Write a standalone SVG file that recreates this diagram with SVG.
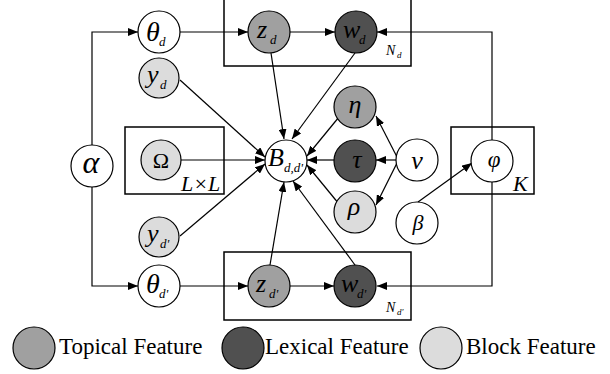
<svg xmlns="http://www.w3.org/2000/svg" width="610" height="374" viewBox="0 0 610 374" font-family="Liberation Serif, Times New Roman, Tinos, DejaVu Serif, serif">
<defs>
<marker id="arr" markerUnits="userSpaceOnUse" markerWidth="10" markerHeight="8" refX="10" refY="4" orient="auto">
<path d="M0,0 L10,4 L0,8 z" fill="#000"/>
</marker>
<style>
.n{stroke:#000;stroke-width:1.2;fill:#fff}
.top{fill:#a0a0a0}
.lex{fill:#505050}
.blk{fill:#dcdcdc}
.plate{fill:none;stroke:#000;stroke-width:1.5}
.e{stroke:#000;stroke-width:1.2;fill:none;marker-end:url(#arr)}
.v{font-style:italic;font-size:26px}
.s{font-style:italic;font-size:13px}
.g{font-style:italic;font-size:26px;text-anchor:middle}
.leg{font-size:23px}
</style>
</defs>
<rect width="610" height="374" fill="#fff"/>
<g id="plates">
<rect class="plate" x="224" y="-5" width="187" height="71"/>
<rect class="plate" x="125" y="127" width="99" height="67"/>
<rect class="plate" x="451" y="127" width="83" height="67"/>
<rect class="plate" x="224" y="252" width="187" height="68"/>
<text x="386" y="55" style="font-style:italic;font-size:14px">N</text><text x="397" y="58" style="font-style:italic;font-size:9px">d</text>
<text x="181" y="191" style="font-style:italic;font-size:22px">L×L</text>
<text x="513" y="191" style="font-style:italic;font-size:22px">K</text>
<text x="386" y="312" style="font-style:italic;font-size:14px">N</text><text x="397" y="315" style="font-style:italic;font-size:9px">d'</text>
</g>
<g id="connectors">
<path class="e" d="M92,145 V32 H138"/>
<path class="e" d="M92,187 V286 H138"/>
<path class="e" d="M180,32 H248"/>
<path class="e" d="M290,32 H335"/>
<path class="e" d="M492,140 V32 H377"/>
<path class="e" d="M180,286 H248"/>
<path class="e" d="M290,286 H334"/>
<path class="e" d="M492,182 V286 H377"/>
<path class="e" d="M418,202 L472,163"/>
<path class="e" d="M271,53 L284,139"/>
<path class="e" d="M355,53 L292,139"/>
<path class="e" d="M180,80 L265,157"/>
<path class="e" d="M181,160 L265,160"/>
<path class="e" d="M180,236 L265,164"/>
<path class="e" d="M270,265 L284,182"/>
<path class="e" d="M355,265 L293,181"/>
<path class="e" d="M339,117 L307,156"/>
<path class="e" d="M334,160 L307,160"/>
<path class="e" d="M339,204 L307,165"/>
<path class="e" d="M397,157 L376,116"/>
<path class="e" d="M396,160 L376,160"/>
<path class="e" d="M397,163 L376,205"/>
</g>
<g id="theta_d"><circle class="n" cx="159" cy="32" r="21"/><text class="v" x="146" y="41" style="font-size:28px">θ</text><text class="s" x="159" y="46">d</text></g>
<g id="z_d"><circle class="n top" cx="269" cy="32" r="21"/><text class="v" x="257" y="38">z</text><text class="s" x="270" y="44">d</text></g>
<g id="w_d"><circle class="n lex" cx="356" cy="32" r="21"/><text class="v" x="343" y="38">w</text><text class="s" x="359" y="44">d</text></g>
<g id="y_d"><circle class="n blk" cx="159" cy="78" r="20"/><text class="v" x="147" y="83">y</text><text class="s" x="160" y="89">d</text></g>
<g id="alpha"><circle class="n" cx="92" cy="166" r="21"/><text class="g" x="91" y="173" style="font-size:32px">α</text></g>
<g id="Omega"><circle class="n blk" cx="161" cy="160" r="20"/><text x="161" y="168" text-anchor="middle" style="font-size:22px">Ω</text></g>
<g id="B"><circle class="n" cx="286" cy="161" r="21"/><text class="v" x="268" y="166">B</text><text class="s" x="284" y="172">d,d'</text></g>
<g id="eta"><circle class="n top" cx="355" cy="107" r="21"/><text class="g" x="355" y="113">η</text></g>
<g id="tau"><circle class="n lex" cx="355" cy="161" r="21"/><text class="g" x="357" y="168">τ</text></g>
<g id="rho"><circle class="n blk" cx="355" cy="212" r="21"/><text class="g" x="354" y="215">ρ</text></g>
<g id="nu"><circle class="n" cx="417" cy="160" r="21"/><text class="g" x="417" y="169">ν</text></g>
<g id="phi"><circle class="n" cx="492" cy="161" r="21"/><text class="g" x="494" y="167" style="font-size:23px">φ</text></g>
<g id="beta"><circle class="n" cx="417" cy="223" r="21"/><text class="g" x="418" y="230" style="font-size:22px">β</text></g>
<g id="y_dp"><circle class="n blk" cx="159" cy="237" r="20"/><text class="v" x="147" y="242">y</text><text class="s" x="160" y="248">d'</text></g>
<g id="theta_dp"><circle class="n" cx="159" cy="286" r="21"/><text class="v" x="146" y="293" style="font-size:28px">θ</text><text class="s" x="159" y="298">d'</text></g>
<g id="z_dp"><circle class="n top" cx="269" cy="286" r="21"/><text class="v" x="256" y="292">z</text><text class="s" x="269" y="298">d'</text></g>
<g id="w_dp"><circle class="n lex" cx="355" cy="286" r="21"/><text class="v" x="341" y="292">w</text><text class="s" x="357" y="298">d'</text></g>
<g id="legend">
<circle class="n top" cx="34" cy="348" r="21"/><text class="leg" x="59" y="354">Topical Feature</text>
<circle class="n lex" cx="243" cy="348" r="21"/><text class="leg" x="265" y="354">Lexical Feature</text>
<circle class="n blk" cx="441" cy="348" r="21"/><text class="leg" x="466" y="354">Block Feature</text>
</g>
</svg>
